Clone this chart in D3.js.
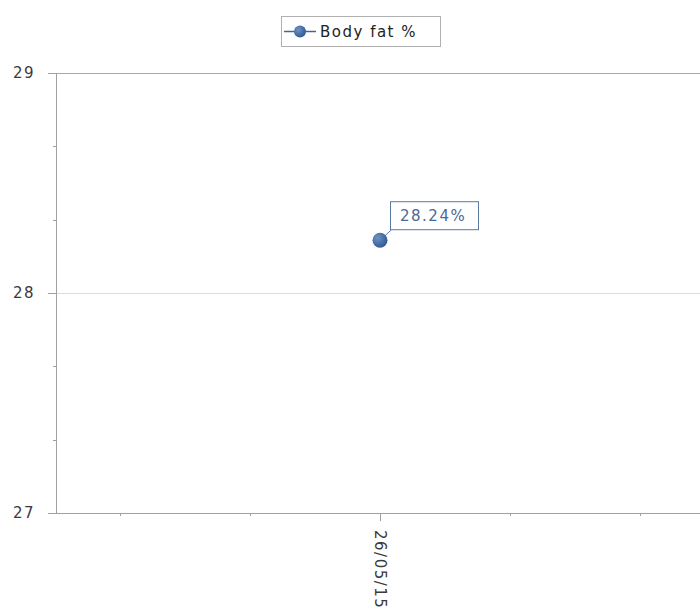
<!DOCTYPE html>
<html>
<head>
<meta charset="utf-8">
<script src="https://cdn.jsdelivr.net/npm/d3@7"></script>
<style>
  body { margin: 0; background: #fff; }
  text { font-family: "DejaVu Sans", Verdana, sans-serif; letter-spacing: 1.5px; }
</style>
</head>
<body>
<svg id="chart"></svg>
<script>
const dates = ["26/05/15"];
const bodyFat = [28.24];
const yTicks = [27, 28, 29];
const seriesName = "Body fat %";

const svgWidth = 700;
const svgHeight = 615;
const plotLeft = 56, plotTop = 73, plotBottom = 513;

const svg = d3.select("#chart")
  .attr("width", svgWidth)
  .attr("height", svgHeight);

const defs = svg.append("defs");
const grad = defs.append("radialGradient")
  .attr("id", "dot")
  .attr("cx", "35%").attr("cy", "35%").attr("r", "70%");
grad.append("stop").attr("offset", "0%").attr("stop-color", "#6f93c8");
grad.append("stop").attr("offset", "100%").attr("stop-color", "#2f5990");

const xScale = d3.scaleLinear()
  .domain([-2.5, 2.5])
  .range([plotLeft - 1, 705]);

const yScale = d3.scaleLinear()
  .domain([27, 29])
  .range([plotBottom, plotTop]);

// gridlines
svg.append("g")
  .selectAll("line")
  .data(yTicks.slice(1))
  .enter()
  .append("line")
  .attr("x1", plotLeft).attr("x2", svgWidth)
  .attr("y1", d => yScale(d) + 0.5).attr("y2", d => yScale(d) + 0.5)
  .attr("stroke", d => d === 29 ? "#a8a8a8" : "#dcdcdc");

// y minor ticks
const minor = d3.range(27, 29, 1 / 3).filter(v => Math.abs(v - Math.round(v)) > 0.01);
svg.append("g")
  .selectAll("line")
  .data(minor)
  .enter()
  .append("line")
  .attr("x1", plotLeft - 3).attr("x2", plotLeft)
  .attr("y1", d => Math.round(yScale(d)) + 0.5).attr("y2", d => Math.round(yScale(d)) + 0.5)
  .attr("stroke", "#a0a0a0");

// y major ticks + labels
const yAxis = svg.append("g");
yAxis.selectAll("line")
  .data(yTicks)
  .enter()
  .append("line")
  .attr("x1", plotLeft - 8).attr("x2", plotLeft)
  .attr("y1", d => yScale(d) + 0.5).attr("y2", d => yScale(d) + 0.5)
  .attr("stroke", "#a0a0a0");
yAxis.selectAll("text")
  .data(yTicks)
  .enter()
  .append("text")
  .attr("x", 13)
  .attr("y", d => yScale(d) + 5)
  .attr("font-size", 15)
  .attr("fill", "#3a3a3a")
  .text(d => d);

// axis lines
svg.append("line")
  .attr("x1", plotLeft + 0.5).attr("x2", plotLeft + 0.5)
  .attr("y1", plotTop).attr("y2", plotBottom)
  .attr("stroke", "#a0a0a0");
svg.append("line")
  .attr("x1", plotLeft - 8).attr("x2", svgWidth)
  .attr("y1", plotBottom + 0.5).attr("y2", plotBottom + 0.5)
  .attr("stroke", "#a0a0a0");

// x ticks
const xTicks = [-2, -1, 0, 1, 2];
svg.append("g")
  .selectAll("line")
  .data(xTicks)
  .enter()
  .append("line")
  .attr("x1", d => Math.round(xScale(d)) + 0.5).attr("x2", d => Math.round(xScale(d)) + 0.5)
  .attr("y1", plotBottom)
  .attr("y2", d => dates[d] !== undefined ? plotBottom + 8 : plotBottom + 3)
  .attr("stroke", "#a0a0a0");

// x labels
svg.append("g")
  .selectAll("text")
  .data(dates)
  .enter()
  .append("text")
  .attr("transform", (d, i) => `translate(${xScale(i) - 5}, ${plotBottom + 17}) rotate(90)`)
  .attr("font-size", 15)
  .attr("fill", "#3a3a3a")
  .text(d => d);

// point
const pts = svg.append("g")
  .selectAll("g")
  .data(bodyFat)
  .enter()
  .append("g");

pts.append("line")
  .attr("x1", (d, i) => xScale(i))
  .attr("y1", d => yScale(d))
  .attr("x2", (d, i) => xScale(i) + 11)
  .attr("y2", d => yScale(d) - 10)
  .attr("stroke", "#5a7aa6");

pts.append("rect")
  .attr("x", (d, i) => xScale(i) + 10.5)
  .attr("y", d => yScale(d) - 38.5)
  .attr("width", 88)
  .attr("height", 28)
  .attr("fill", "#fff")
  .attr("stroke", "#5a7aa6");

pts.append("text")
  .attr("x", (d, i) => xScale(i) + 20)
  .attr("y", d => yScale(d) - 19)
  .attr("font-size", 15)
  .attr("fill", "#4a6a96")
  .text(d => d.toFixed(2) + "%");

pts.append("circle")
  .attr("cx", (d, i) => xScale(i))
  .attr("cy", d => yScale(d))
  .attr("r", 7.5)
  .attr("fill", "url(#dot)");

// legend
const legend = svg.append("g");
legend.append("rect")
  .attr("x", 281.5).attr("y", 16.5)
  .attr("width", 159).attr("height", 30)
  .attr("fill", "#fff")
  .attr("stroke", "#b0b0b0");
legend.append("line")
  .attr("x1", 284).attr("x2", 316)
  .attr("y1", 31.5).attr("y2", 31.5)
  .attr("stroke", "#3d66a0")
  .attr("stroke-width", 1.5);
legend.append("circle")
  .attr("cx", 300).attr("cy", 31.5)
  .attr("r", 6)
  .attr("fill", "url(#dot)");
legend.append("text")
  .attr("x", 320).attr("y", 37)
  .attr("font-size", 15)
  .attr("fill", "#222")
  .text(seriesName);
</script>
</body>
</html>
